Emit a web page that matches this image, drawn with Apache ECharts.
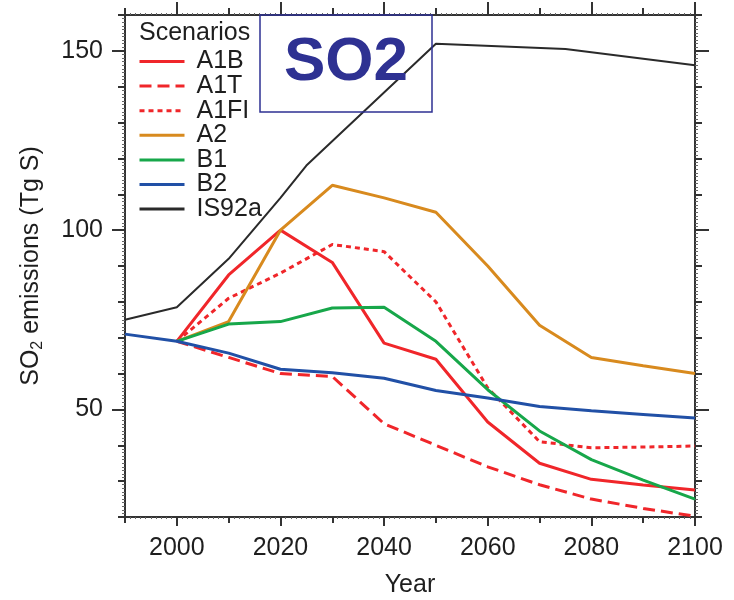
<!DOCTYPE html>
<html>
<head>
<meta charset="utf-8">
<script src="https://cdn.jsdelivr.net/npm/echarts@6/dist/echarts.min.js"></script>
<style>html,body{margin:0;padding:0;background:#fff;}#c{width:734px;height:600px;}</style>
</head>
<body>
<div id="c"></div>
<script>
// ---- data ----
var sresYears = [2000, 2010, 2020, 2030, 2040, 2050, 2060, 2070, 2080, 2090, 2100];
var A1B  = [69, 87.5, 100, 91, 68.5, 64, 46.5, 35, 30.5, 28.9, 27.5];
var A1T  = [69, 64.5, 60, 59.2, 46, 40, 34, 29, 25, 22.4, 20.2];
var A1FI = [69, 81, 88, 96, 94, 80, 56, 41, 39.3, 39.5, 39.8];
var A2   = [69, 74.5, 100, 112.5, 109, 105, 90, 73.5, 64.5, 62.2, 60];
var B1   = [69, 73.8, 74.5, 78.3, 78.5, 69, 55.5, 44, 36, 30.3, 25];
var b2Years = [1990, 2000, 2010, 2020, 2030, 2040, 2050, 2060, 2070, 2080, 2090, 2100];
var B2   = [71, 69, 65.7, 61.2, 60.2, 58.7, 55.3, 53.2, 50.8, 49.6, 48.6, 47.6];
var is92Years = [1990, 2000, 2010, 2020, 2025, 2050, 2075, 2100];
var IS92a = [75, 78.5, 92, 109, 118, 152, 150.5, 146];

var xLabelTicks = [2000, 2020, 2040, 2060, 2080, 2100];
var yLabelTicks = [50, 100, 150];

function pairs(xs, ys) { return xs.map(function (x, i) { return [x, ys[i]]; }); }

var FONT = 'Liberation Sans, Arial, Helvetica, sans-serif';
var FS = 25;
var AX = '#333';
var TXT = '#1e1e1e';
var RED = '#f0262a', ORANGE = '#d88a1e', GREEN = '#17a74a', BLUE = '#2150a6', BLACK = '#2a2a2a';

function lineSeries(name, data, color, type, width) {
  return {
    name: name, type: 'line', data: data, xAxisIndex: 0, yAxisIndex: 0,
    symbol: 'none', showSymbol: false, smooth: false, animation: false,
    lineStyle: { color: color, width: width || 3, type: type || 'solid' },
    itemStyle: { color: color }
  };
}

var chart = echarts.init(document.getElementById('c'), null, { renderer: 'canvas' });

var baseX = { type: 'value', min: 1990, max: 2100, gridIndex: 0 };
var baseY = { type: 'value', min: 20, max: 160, gridIndex: 0 };

chart.setOption({
  animation: false,
  backgroundColor: '#fff',
  textStyle: { fontFamily: FONT },
  title: [
    {
      text: 'SO2', left: 260, top: 15,
      padding: [16, 24, 17, 24],
      borderColor: '#2e3192', borderWidth: 1.5,
      textStyle: { fontSize: 62, fontWeight: 'bold', color: '#2e3192', fontFamily: FONT, lineHeight: 64 }
    },
    {
      text: 'Scenarios', left: 139, top: 20, padding: 0,
      textStyle: { fontSize: FS, fontWeight: 'normal', color: TXT, fontFamily: FONT, lineHeight: 26 }
    }
  ],
  legend: {
    orient: 'vertical', left: 138, top: 49, padding: 0,
    itemWidth: 45, itemHeight: 20, itemGap: -0.4,
    itemStyle: { opacity: 0, borderWidth: 0 },
    lineStyle: { width: 3 },
    textStyle: { fontSize: FS, color: TXT, fontFamily: FONT, lineHeight: 20, padding: [0, 0, 0, 7] },
    data: ['A1B', 'A1T', 'A1FI', 'A2', 'B1', 'B2', 'IS92a']
  },
  grid: { left: 125, right: 39, top: 15, bottom: 83, containLabel: false, outerBoundsMode: 'none' },
  xAxis: [
    Object.assign({}, baseX, {
      position: 'bottom', interval: 10,
      name: 'Year', nameLocation: 'middle', nameGap: 56,
      nameTextStyle: { fontSize: FS, color: TXT, fontFamily: FONT },
      axisLine: { show: true, onZero: false, lineStyle: { color: AX, width: 2 } },
      axisTick: { show: true, length: 6, lineStyle: { color: AX, width: 2 } },
      minorTick: { show: true, splitNumber: 10, length: 2, lineStyle: { color: '#666', width: 1 } },
      axisLabel: { customValues: xLabelTicks, fontSize: FS, color: TXT, margin: 19, fontFamily: FONT,
                   formatter: function (v) { return String(v); } },
      splitLine: { show: false }
    }),
    Object.assign({}, baseX, {
      position: 'bottom',
      axisLine: { show: false, onZero: false },
      axisTick: { show: true, customValues: xLabelTicks, length: 9, lineStyle: { color: AX, width: 2 } },
      axisLabel: { show: false }, splitLine: { show: false }
    }),
    Object.assign({}, baseX, {
      position: 'top', interval: 10,
      axisLine: { show: true, onZero: false, lineStyle: { color: AX, width: 2 } },
      axisTick: { show: true, length: 7, lineStyle: { color: AX, width: 2 } },
      minorTick: { show: true, splitNumber: 10, length: 2, lineStyle: { color: '#666', width: 1 } },
      axisLabel: { show: false }, splitLine: { show: false }
    }),
    Object.assign({}, baseX, {
      position: 'top',
      axisLine: { show: false, onZero: false },
      axisTick: { show: true, customValues: xLabelTicks, length: 13, lineStyle: { color: AX, width: 2 } },
      axisLabel: { show: false }, splitLine: { show: false }
    })
  ],
  yAxis: [
    Object.assign({}, baseY, {
      position: 'left', interval: 10,
      name: '{a|SO}{s|2}{a| emissions (Tg S)}', nameLocation: 'middle', nameGap: 79,
      nameTextStyle: {
        fontSize: FS, color: TXT, fontFamily: FONT,
        rich: {
          a: { fontSize: FS, color: TXT, fontFamily: FONT },
          s: { fontSize: 16, color: TXT, fontFamily: FONT, padding: [13, 0, 0, 0] }
        }
      },
      axisLine: { show: true, onZero: false, lineStyle: { color: AX, width: 2 } },
      axisTick: { show: true, length: 7, lineStyle: { color: AX, width: 2 } },
      minorTick: { show: true, splitNumber: 10, length: 3, lineStyle: { color: '#666', width: 1 } },
      axisLabel: { customValues: yLabelTicks, fontSize: FS, color: TXT, margin: 22, fontFamily: FONT },
      splitLine: { show: false }
    }),
    Object.assign({}, baseY, {
      position: 'left',
      axisLine: { show: false, onZero: false },
      axisTick: { show: true, customValues: yLabelTicks, length: 13, lineStyle: { color: AX, width: 2 } },
      axisLabel: { show: false }, splitLine: { show: false }
    }),
    Object.assign({}, baseY, {
      position: 'right', interval: 10,
      axisLine: { show: true, onZero: false, lineStyle: { color: AX, width: 2 } },
      axisTick: { show: true, length: 7, lineStyle: { color: AX, width: 2 } },
      minorTick: { show: true, splitNumber: 10, length: 3, lineStyle: { color: '#666', width: 1 } },
      axisLabel: { show: false }, splitLine: { show: false }
    }),
    Object.assign({}, baseY, {
      position: 'right',
      axisLine: { show: false, onZero: false },
      axisTick: { show: true, customValues: yLabelTicks, length: 14, lineStyle: { color: AX, width: 2 } },
      axisLabel: { show: false }, splitLine: { show: false }
    })
  ],
  series: [
    lineSeries('A1B', pairs(sresYears, A1B), RED, 'solid'),
    lineSeries('A1T', pairs(sresYears, A1T), RED, [12, 6]),
    lineSeries('A1FI', pairs(sresYears, A1FI), RED, [5, 4]),
    lineSeries('A2', pairs(sresYears, A2), ORANGE, 'solid'),
    lineSeries('B1', pairs(sresYears, B1), GREEN, 'solid'),
    lineSeries('B2', pairs(b2Years, B2), BLUE, 'solid'),
    lineSeries('IS92a', pairs(is92Years, IS92a), BLACK, 'solid', 2)
  ]
});
</script>
</body>
</html>
